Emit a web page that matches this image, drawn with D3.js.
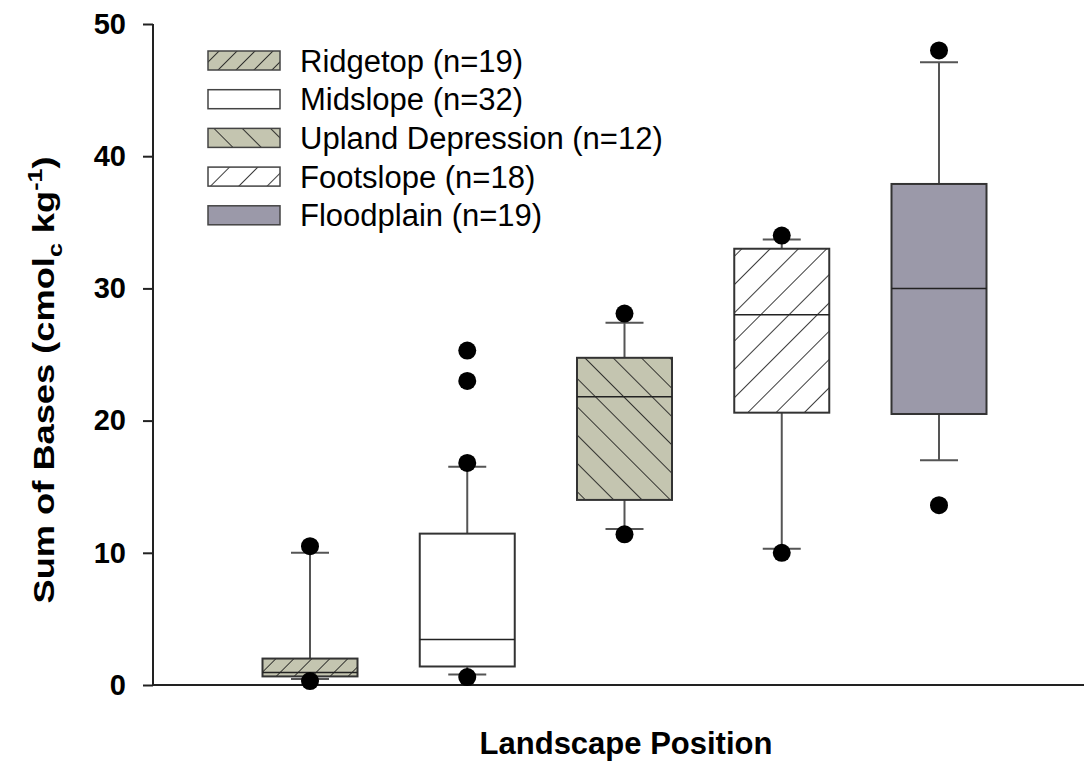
<!DOCTYPE html>
<html><head><meta charset="utf-8">
<script src="https://cdn.jsdelivr.net/npm/d3@7"></script>
<style>body{margin:0;background:#fff}svg{display:block}text{font-family:"Liberation Sans",Arial,sans-serif}</style>
</head><body>
<script>
const categories = ["Ridgetop (n=19)","Midslope (n=32)","Upland Depression (n=12)","Footslope (n=18)","Floodplain (n=19)"];
const q1 =       [0.65, 1.4, 14.0, 20.6, 20.5];
const median =   [0.95, 3.45, 21.8, 28.0, 30.0];
const q3 =       [2.0, 11.45, 24.75, 33.0, 37.9];
const whiskLo =  [0.45, 0.8, 11.8, 10.3, 17.0];
const whiskHi =  [10.0, 16.5, 27.4, 33.7, 47.1];
const outliers = [[10.5, 0.3],[25.3, 23.0, 16.8, 0.6],[28.1, 11.4],[34.0, 10.0],[48.0, 13.6]];
const yTicks = [0,10,20,30,40,50];
const fills = ["url(#hatchFine)","#ffffff","url(#hatchBack)","url(#hatchFwd)","#9b99a9"];

const W=1084,H=769;
const svg=d3.select("body").append("svg").attr("width",W).attr("height",H);
const defs=svg.append("defs");
function pat(id,bg,spacing,angle){
  const p=defs.append("pattern").attr("id",id).attr("patternUnits","userSpaceOnUse")
    .attr("width",spacing).attr("height",spacing).attr("patternTransform",`rotate(${angle})`);
  p.append("rect").attr("width",spacing).attr("height",spacing).attr("fill",bg);
  p.append("line").attr("x1",0).attr("y1",0).attr("x2",0).attr("y2",spacing).attr("stroke","#1a1a1a").attr("stroke-width",1.7);
}
pat("hatchFine","#c4c5b0",12.7,45);
pat("hatchBack","#c4c5b0",20,-45);
pat("hatchFwd","#ffffff",20,45);

const y=d3.scaleLinear().domain([0,50]).range([685,24]);
const x=d3.scalePoint().domain(categories).range([310,939]);
const boxW=95, capW=38;

// axes
const yAxis=svg.append("g").attr("transform","translate(153,0)")
  .call(d3.axisLeft(y).tickValues(yTicks).tickSize(10).tickPadding(17).tickFormat(d3.format("d")));
yAxis.select(".domain").attr("stroke","#222").attr("stroke-width",2).attr("d","M0,24V685");
yAxis.selectAll(".tick line").attr("stroke","#222").attr("stroke-width",2);
yAxis.selectAll(".tick text").attr("font-size",29).attr("font-weight","bold").attr("fill","#000")
  .attr("font-family","Liberation Sans, Arial, sans-serif");
svg.append("line").attr("x1",152).attr("x2",1084).attr("y1",y(0)).attr("y2",y(0)).attr("stroke","#222").attr("stroke-width",2);

// boxes
const g=svg.append("g");
categories.forEach((c,i)=>{
  const cx=x(c);
  const wl="#555";
  g.append("line").attr("x1",cx).attr("x2",cx).attr("y1",y(q3[i])).attr("y2",y(whiskHi[i])).attr("stroke",wl).attr("stroke-width",2);
  g.append("line").attr("x1",cx).attr("x2",cx).attr("y1",y(q1[i])).attr("y2",y(whiskLo[i])).attr("stroke",wl).attr("stroke-width",2);
  g.append("line").attr("x1",cx-capW/2).attr("x2",cx+capW/2).attr("y1",y(whiskHi[i])).attr("y2",y(whiskHi[i])).attr("stroke",wl).attr("stroke-width",2);
  g.append("line").attr("x1",cx-capW/2).attr("x2",cx+capW/2).attr("y1",y(whiskLo[i])).attr("y2",y(whiskLo[i])).attr("stroke",wl).attr("stroke-width",2);
  g.append("rect").attr("x",cx-boxW/2).attr("y",y(q3[i])).attr("width",boxW).attr("height",y(q1[i])-y(q3[i]))
    .attr("fill",fills[i]).attr("stroke","#333").attr("stroke-width",2);
  g.append("line").attr("x1",cx-boxW/2).attr("x2",cx+boxW/2).attr("y1",y(median[i])).attr("y2",y(median[i])).attr("stroke","#222").attr("stroke-width",1.5);
  outliers[i].forEach(v=>{
    g.append("circle").attr("cx",cx).attr("cy",y(v)).attr("r",9).attr("fill","#000");
  });
});

// legend
const lg=svg.append("g");
categories.forEach((c,i)=>{
  const cy=60.5+i*38.7;
  lg.append("rect").attr("x",208).attr("y",cy-9.5).attr("width",72).attr("height",19)
    .attr("fill",fills[i]).attr("stroke","#444").attr("stroke-width",1.5);
  lg.append("text").attr("x",300).attr("y",cy+11).attr("font-size",31).attr("fill","#000").text(c);
});

// axis titles
svg.append("text").attr("x",626).attr("y",754).attr("text-anchor","middle").attr("font-size",31).attr("font-weight","bold").text("Landscape Position");
const yt=svg.append("text").attr("transform","translate(54,380) rotate(-90) scale(1.25,1)").attr("text-anchor","middle")
  .attr("font-size",29).attr("font-weight","bold");
yt.append("tspan").text("Sum of Bases (cmol");
yt.append("tspan").attr("font-size",20).attr("dy",8).text("c");
yt.append("tspan").attr("dy",-8).text(" kg");
yt.append("tspan").attr("font-size",20).attr("dy",-12).text("-1");
yt.append("tspan").attr("dy",12).text(")");
</script>
</body></html>
